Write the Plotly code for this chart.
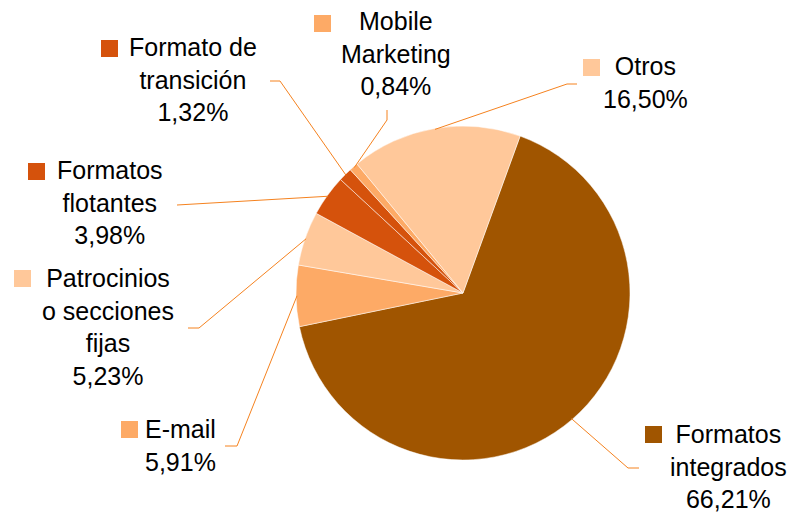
import math
import plotly.graph_objects as go

# ---- data ----
labels = ["Formatos<br>integrados", "E-mail", "Patrocinios<br>o secciones<br>fijas",
          "Formatos<br>flotantes", "Formato de<br>transición", "Mobile<br>Marketing", "Otros"]
values = [66.21, 5.91, 5.23, 3.98, 1.32, 0.84, 16.50]
value_text = ["66,21%", "5,91%", "5,23%", "3,98%", "1,32%", "0,84%", "16,50%"]
colors = ["#A05500", "#FDAA66", "#FFC89A", "#D5520C", "#D5520C", "#FDAA66", "#FFC89A"]

# ---- layout constants (pixels) ----
W, H = 795, 514
CX, CY, R = 463, 293, 167
ROTATION = 20
LINE_COLOR = "#F5821F"
FONT = dict(family="Liberation Sans, Arial, sans-serif", size=25, color="#000000")

# label block centres, legend square top-left, leader start/elbow
label_pos = [(728, 466), (180, 445), (108, 327), (110, 203), (193, 79), (396, 54), (645, 82)]
square_pos = [(645, 426), (121, 421), (14, 270), (28, 163), (101, 40), (314, 15), (583, 59)]
leader_pts = [
    [(639, 468), (628, 468)],
    [(225, 446), (237, 446)],
    [(188, 328), (199, 328)],
    [(177, 205)],
    [(270, 81), (280, 81)],
    [(387, 110), (387, 120)],
    [(577, 84), (567, 84)],
]
SQ = 17


def px(x):
    return x / W


def py(y):
    return 1 - y / H


fig = go.Figure(go.Pie(
    labels=labels,
    values=values,
    sort=False,
    direction="clockwise",
    rotation=ROTATION,
    marker=dict(colors=colors, line=dict(color="#FFFFFF", width=0.5)),
    textinfo="none",
    hoverinfo="label+percent",
    showlegend=False,
    domain=dict(x=[px(CX - R), px(CX + R)], y=[py(CY + R), py(CY - R)]),
))

total = sum(values)
annotations = []
shapes = []
cum = 0.0
for i, (lab, v) in enumerate(zip(labels, values)):
    mid = ROTATION + (cum + v / 2) / total * 360
    cum += v
    a = math.radians(mid)
    ex = CX + (R - 1) * math.sin(a)
    ey = CY - (R - 1) * math.cos(a)
    pts = leader_pts[i] + [(ex, ey)]
    path = "M " + " L ".join(f"{px(x)},{py(y)}" for x, y in pts)
    shapes.append(dict(type="path", xref="paper", yref="paper", path=path,
                       line=dict(color=LINE_COLOR, width=1)))
    sx, sy = square_pos[i]
    shapes.append(dict(type="rect", xref="paper", yref="paper",
                       x0=px(sx), x1=px(sx + SQ), y0=py(sy + SQ), y1=py(sy),
                       fillcolor=colors[i], line=dict(width=0)))
    lx, ly = label_pos[i]
    annotations.append(dict(
        x=px(lx), y=py(ly), xref="paper", yref="paper",
        text=lab + "<br>" + value_text[i], showarrow=False,
        xanchor="center", yanchor="middle", align="center", font=FONT,
    ))

fig.update_layout(
    width=W, height=H,
    margin=dict(l=0, r=0, t=0, b=0),
    paper_bgcolor="#FFFFFF", plot_bgcolor="#FFFFFF",
    shapes=shapes, annotations=annotations,
)

fig.write_html("out.html", config={"displayModeBar": False},
               post_script="document.body.style.margin='0px';")
